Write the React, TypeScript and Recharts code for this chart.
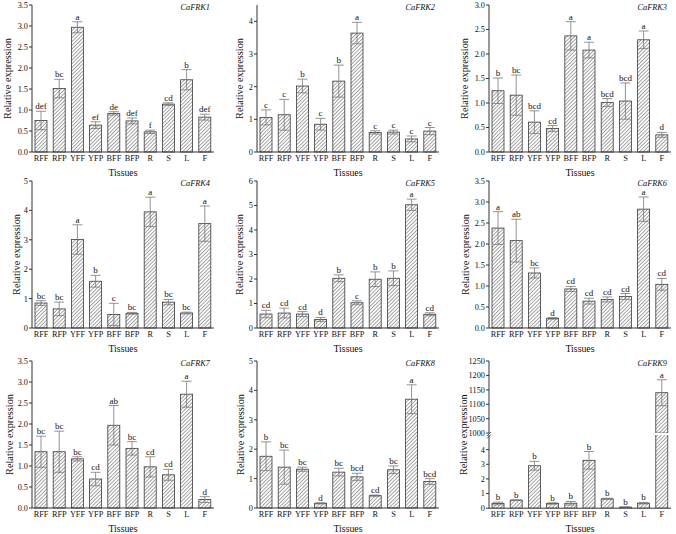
import React from 'react';
import { BarChart, Bar, XAxis, YAxis, ErrorBar } from 'recharts';

const FONT = "'Liberation Serif', 'Times New Roman', serif";

const tissues = ['RFF', 'RFP', 'YFF', 'YFP', 'BFF', 'BFP', 'R', 'S', 'L', 'F'];

const frk1Values = [0.75, 1.51, 2.97, 0.64, 0.92, 0.74, 0.48, 1.14, 1.72, 0.83];
const frk1Errors = [0.22, 0.22, 0.13, 0.08, 0.04, 0.07, 0.04, 0.03, 0.24, 0.07];
const frk1Letters = ['def', 'bc', 'a', 'ef', 'de', 'def', 'f', 'cd', 'b', 'def'];

const frk2Values = [1.06, 1.14, 2.02, 0.85, 2.17, 3.64, 0.6, 0.61, 0.4, 0.64];
const frk2Errors = [0.23, 0.47, 0.21, 0.18, 0.49, 0.33, 0.05, 0.06, 0.09, 0.11];
const frk2Letters = ['c', 'c', 'b', 'c', 'b', 'a', 'c', 'c', 'c', 'c'];

const frk3Values = [1.25, 1.16, 0.61, 0.48, 2.37, 2.08, 1.01, 1.04, 2.29, 0.35];
const frk3Errors = [0.26, 0.41, 0.23, 0.06, 0.29, 0.16, 0.08, 0.37, 0.18, 0.05];
const frk3Letters = ['b', 'bc', 'bcd', 'cd', 'a', 'a', 'bcd', 'bcd', 'a', 'd'];

const frk4Values = [0.85, 0.65, 3.01, 1.59, 0.46, 0.5, 3.95, 0.88, 0.51, 3.55];
const frk4Errors = [0.08, 0.23, 0.5, 0.2, 0.38, 0.03, 0.5, 0.09, 0.03, 0.6];
const frk4Letters = ['bc', 'bc', 'a', 'b', 'c', 'bc', 'a', 'bc', 'bc', 'a'];

const frk5Values = [0.57, 0.61, 0.57, 0.35, 2.03, 1.03, 1.99, 2.03, 5.03, 0.56];
const frk5Errors = [0.15, 0.2, 0.1, 0.08, 0.14, 0.08, 0.3, 0.3, 0.23, 0.06];
const frk5Letters = ['cd', 'cd', 'cd', 'd', 'b', 'c', 'b', 'b', 'a', 'cd'];

const frk6Values = [2.38, 2.08, 1.31, 0.23, 0.93, 0.64, 0.68, 0.75, 2.83, 1.04];
const frk6Errors = [0.39, 0.51, 0.12, 0.02, 0.06, 0.07, 0.06, 0.07, 0.29, 0.14];
const frk6Letters = ['a', 'ab', 'bc', 'd', 'cd', 'cd', 'cd', 'cd', 'a', 'cd'];

const frk7Values = [1.34, 1.34, 1.17, 0.69, 1.97, 1.42, 0.98, 0.79, 2.71, 0.2];
const frk7Errors = [0.37, 0.49, 0.05, 0.16, 0.47, 0.16, 0.24, 0.13, 0.31, 0.07];
const frk7Letters = ['bc', 'bc', 'bc', 'cd', 'ab', 'bc', 'cd', 'cd', 'a', 'd'];

const frk8Values = [1.76, 1.39, 1.32, 0.16, 1.22, 1.06, 0.42, 1.3, 3.7, 0.9];
const frk8Errors = [0.49, 0.58, 0.07, 0.02, 0.13, 0.12, 0.02, 0.13, 0.49, 0.1];
const frk8Letters = ['b', 'bc', 'bc', 'd', 'bc', 'bcd', 'cd', 'bc', 'a', 'bcd'];

const frk9Values = [0.32, 0.55, 2.9, 0.32, 0.34, 3.27, 0.64, 0.07, 0.34, 1140];
const frk9Errors = [0.09, 0.02, 0.3, 0.05, 0.12, 0.6, 0.04, 0.02, 0.05, 45];
const frk9Letters = ['b', 'b', 'b', 'b', 'b', 'b', 'b', 'b', 'b', 'a'];

const ticks35 = [0, 0.5, 1, 1.5, 2, 2.5, 3, 3.5];
const ticks30 = [0, 0.5, 1, 1.5, 2, 2.5, 3];
const ticks4 = [0, 1, 2, 3, 4];
const ticks5 = [0, 1, 2, 3, 4, 5];
const ticks6 = [0, 1, 2, 3, 4, 5, 6];
const ticksHigh = [1000, 1050, 1100, 1150, 1200, 1250];

const axisXs = [31.5, 257, 489];
const rowTops = [5, 181, 360.7];
const PLOT_W = 182;
const PLOT_H = 147;
const Y_W = 32;
const X_H = 30;
const M_TOP = 6;
const M_RIGHT = 8;
const INK = '#111';

type Panel = {
  gene: string;
  values: number[];
  errors: number[];
  letters: string[];
  domain: [number, number];
  ticks: number[];
  dec: number;
  col: number;
  row: number;
  dist: number;
};

const panels: Panel[] = [
  { gene: 'CaFRK1', values: frk1Values, errors: frk1Errors, letters: frk1Letters, domain: [0, 3.5], ticks: ticks35, dec: 1, col: 0, row: 0, dist: 25 },
  { gene: 'CaFRK2', values: frk2Values, errors: frk2Errors, letters: frk2Letters, domain: [0, 4.5], ticks: ticks4, dec: 0, col: 1, row: 0, dist: 18 },
  { gene: 'CaFRK3', values: frk3Values, errors: frk3Errors, letters: frk3Letters, domain: [0, 3], ticks: ticks30, dec: 1, col: 2, row: 0, dist: 25 },
  { gene: 'CaFRK4', values: frk4Values, errors: frk4Errors, letters: frk4Letters, domain: [0, 5], ticks: ticks5, dec: 0, col: 0, row: 1, dist: 16 },
  { gene: 'CaFRK5', values: frk5Values, errors: frk5Errors, letters: frk5Letters, domain: [0, 6], ticks: ticks6, dec: 0, col: 1, row: 1, dist: 18 },
  { gene: 'CaFRK6', values: frk6Values, errors: frk6Errors, letters: frk6Letters, domain: [0, 3.5], ticks: ticks35, dec: 1, col: 2, row: 1, dist: 24 },
  { gene: 'CaFRK7', values: frk7Values, errors: frk7Errors, letters: frk7Letters, domain: [0, 3.5], ticks: ticks35, dec: 1, col: 0, row: 2, dist: 23 },
  { gene: 'CaFRK8', values: frk8Values, errors: frk8Errors, letters: frk8Letters, domain: [0, 5], ticks: ticks5, dec: 0, col: 1, row: 2, dist: 16.5 },
];

const makeShape = (dmin: number, dmax: number) => (props: any) => {
  const { x, y, width, height, payload } = props;
  if (payload == null || payload.value == null || !isFinite(y) || !isFinite(height)) return <g />;
  const span = payload.value - dmin;
  const ppu = span > 0 ? height / span : 0;
  const errPx = (payload.err || 0) * ppu;
  const showLetter = payload.letter && payload.value <= dmax;
  return (
    <g>
      <rect x={x} y={y} width={width} height={height} fill="url(#hatchPattern)" stroke="#3a3a3a" strokeWidth={0.8} />
      {showLetter ? (
        <text x={x + width / 2} y={y - errPx - 2} textAnchor="middle" fontSize={9} fontFamily={FONT} fill={INK}>
          {payload.letter}
        </text>
      ) : null}
    </g>
  );
};

const xTitle = (props: any) => {
  const vb = props.viewBox || props;
  return (
    <text x={vb.x + vb.width / 2} y={vb.y + 24} textAnchor="middle" fontSize={9.8} fontFamily={FONT} fill={INK}>
      Tissues
    </text>
  );
};

const yTitle = (dist: number, shift: number, gene: string | null, showTitle: boolean, breakMark: boolean) => (props: any) => {
  const vb = props.viewBox || props;
  const cx = vb.x + vb.width - dist;
  const cy = vb.y + vb.height / 2 + shift;
  const ax = vb.x + vb.width;
  return (
    <g>
      {showTitle ? (
        <text x={cx} y={cy} transform={`rotate(-90, ${cx}, ${cy})`} textAnchor="middle" dominantBaseline="central" fontSize={10.3} fontFamily={FONT} fill={INK}>
          Relative expression
        </text>
      ) : null}
      {gene ? (
        <text x={ax + PLOT_W - 4} y={vb.y + 2.5} textAnchor="end" dominantBaseline="central" fontSize={8.3} fontStyle="italic" fontFamily={FONT} fill={INK}>
          {gene}
        </text>
      ) : null}
      {breakMark ? (
        <g stroke="#333" strokeWidth={0.8}>
          <line x1={ax - 2} y1={vb.y + 1} x2={ax + 2} y2={vb.y - 3} />
          <line x1={ax - 2} y1={vb.y + 3.5} x2={ax + 2} y2={vb.y - 0.5} />
        </g>
      ) : null}
    </g>
  );
};

const buildRows = (values: number[], errors: number[], letters: string[]) =>
  tissues.map((t, i) => ({ tissue: t, value: values[i], err: errors[i], letter: letters[i] }));

const tickStyle = { fontSize: 8.3, fill: INK, fontFamily: FONT };

const PanelChart = ({ p }: { p: Panel }) => {
  const data = buildRows(p.values, p.errors, p.letters);
  const left = axisXs[p.col] - Y_W;
  const top = rowTops[p.row] - M_TOP;
  return (
    <div style={{ position: 'absolute', left, top }}>
      <BarChart
        width={Y_W + PLOT_W + M_RIGHT}
        height={M_TOP + PLOT_H + X_H}
        data={data}
        margin={{ top: M_TOP, right: M_RIGHT, bottom: 0, left: 0 }}
      >
        <XAxis
          dataKey="tissue"
          interval={0}
          tickLine={false}
          tickSize={0}
          tickMargin={3}
          height={X_H}
          axisLine={{ stroke: '#333' }}
          tick={tickStyle}
          label={xTitle}
        />
        <YAxis
          width={Y_W}
          domain={p.domain}
          ticks={p.ticks}
          interval={0}
          tickSize={3}
          tickMargin={1}
          axisLine={{ stroke: '#333' }}
          tickLine={{ stroke: '#333' }}
          tick={tickStyle}
          tickFormatter={(v: number) => v.toFixed(p.dec)}
          label={yTitle(p.dist, 0, p.gene, true, false)}
        />
        <Bar dataKey="value" barSize={12} isAnimationActive={false} shape={makeShape(p.domain[0], p.domain[1])}>
          <ErrorBar dataKey="err" width={5} stroke="#777" strokeWidth={0.8} />
        </Bar>
      </BarChart>
    </div>
  );
};

const LOW_MAX = 5;
const UPPER_BOTTOM = 432.8;
const LOWER_TOP = 434.6;
const ROW3_BOTTOM = 507.8;

const Panel9 = () => {
  const col = 2;
  const left = axisXs[col] - Y_W;
  const upperPlotH = UPPER_BOTTOM - rowTops[2];
  const lowerPlotH = ROW3_BOTTOM - LOWER_TOP;
  const upperData = tissues.map((t, i) => ({
    tissue: t,
    value: frk9Values[i] > LOW_MAX ? frk9Values[i] : null,
    err: frk9Values[i] > LOW_MAX ? frk9Errors[i] : null,
    letter: frk9Values[i] > LOW_MAX ? frk9Letters[i] : '',
  }));
  const lowerData = tissues.map((t, i) => ({
    tissue: t,
    value: frk9Values[i],
    err: frk9Values[i] > LOW_MAX ? 0 : frk9Errors[i],
    letter: frk9Values[i] > LOW_MAX ? '' : frk9Letters[i],
  }));
  const fullCenter = (rowTops[2] + ROW3_BOTTOM) / 2;
  const lowerCenter = (LOWER_TOP + ROW3_BOTTOM) / 2;
  return (
    <>
      <div style={{ position: 'absolute', left, top: rowTops[2] - M_TOP }}>
        <BarChart
          width={Y_W + PLOT_W + M_RIGHT}
          height={M_TOP + upperPlotH}
          data={upperData}
          margin={{ top: M_TOP, right: M_RIGHT, bottom: 0, left: 0 }}
        >
          <XAxis dataKey="tissue" hide />
          <YAxis
            width={Y_W}
            domain={[1000, 1250]}
            ticks={ticksHigh}
            interval={0}
            allowDataOverflow
            tickSize={3}
            tickMargin={1}
            axisLine={{ stroke: '#333' }}
            tickLine={{ stroke: '#333' }}
            tick={tickStyle}
            label={yTitle(26, 0, 'CaFRK9', false, false)}
          />
          <Bar dataKey="value" barSize={12} isAnimationActive={false} shape={makeShape(1000, 1250)}>
            <ErrorBar dataKey="err" width={5} stroke="#777" strokeWidth={0.8} />
          </Bar>
        </BarChart>
      </div>
      <div style={{ position: 'absolute', left, top: LOWER_TOP - 2 }}>
        <BarChart
          width={Y_W + PLOT_W + M_RIGHT}
          height={2 + lowerPlotH + X_H}
          data={lowerData}
          margin={{ top: 2, right: M_RIGHT, bottom: 0, left: 0 }}
        >
          <XAxis
            dataKey="tissue"
            interval={0}
            tickLine={false}
            tickSize={0}
            tickMargin={3}
            height={X_H}
            axisLine={{ stroke: '#333' }}
            tick={tickStyle}
            label={xTitle}
          />
          <YAxis
            width={Y_W}
            domain={[0, LOW_MAX]}
            ticks={ticks4}
            interval={0}
            allowDataOverflow
            tickSize={3}
            tickMargin={1}
            axisLine={{ stroke: '#333' }}
            tickLine={{ stroke: '#333' }}
            tick={tickStyle}
            label={yTitle(26, fullCenter - lowerCenter, null, true, true)}
          />
          <Bar dataKey="value" barSize={12} isAnimationActive={false} shape={makeShape(0, LOW_MAX)}>
            <ErrorBar dataKey="err" width={5} stroke="#777" strokeWidth={0.8} />
          </Bar>
        </BarChart>
      </div>
    </>
  );
};

export default function App() {
  return (
    <div style={{ position: 'absolute', left: 0, top: 0, width: 676, height: 534, background: '#fff', overflow: 'hidden' }}>
      <style>{'.recharts-surface { overflow: visible; }'}</style>
      <svg width="0" height="0" style={{ position: 'absolute' }}>
        <defs>
          <pattern id="hatchPattern" patternUnits="userSpaceOnUse" width="2.6" height="2.6" patternTransform="rotate(45)">
            <rect x="0" y="0" width="2.6" height="2.6" fill="#fff" />
            <line x1="0.5" y1="0" x2="0.5" y2="2.6" stroke="#7a7a7a" strokeWidth="0.7" />
          </pattern>
        </defs>
      </svg>
      {panels.map((p) => (
        <PanelChart key={p.gene} p={p} />
      ))}
      <Panel9 />
    </div>
  );
}
